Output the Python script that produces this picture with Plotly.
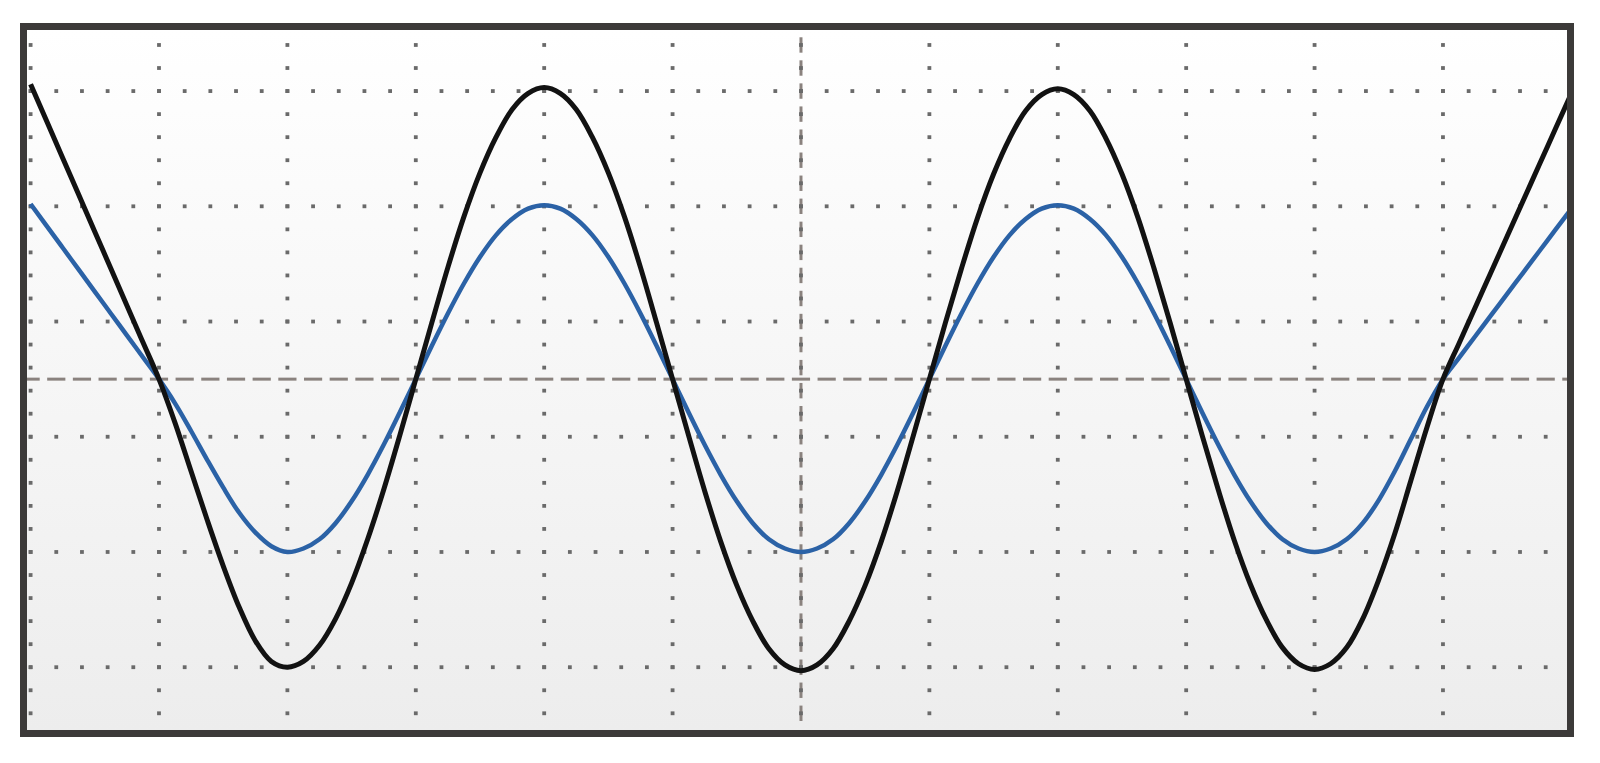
import plotly.graph_objects as go

# horizontal position of each reading, in screen divisions from the left edge
x_div = [0, 0.125, 0.25, 0.375, 0.5, 0.625, 0.75, 0.875,
         1, 1.125, 1.25, 1.375, 1.5, 1.625, 1.75, 1.875,
         2, 2.125, 2.25, 2.375, 2.5, 2.625, 2.75, 2.875,
         3, 3.125, 3.25, 3.375, 3.5, 3.625, 3.75, 3.875,
         4, 4.125, 4.25, 4.375, 4.5, 4.625, 4.75, 4.875,
         5, 5.125, 5.25, 5.375, 5.5, 5.625, 5.75, 5.875,
         6, 6.125, 6.25, 6.375, 6.5, 6.625, 6.75, 6.875,
         7, 7.125, 7.25, 7.375, 7.5, 7.625, 7.75, 7.875,
         8, 8.125, 8.25, 8.375, 8.5, 8.625, 8.75, 8.875,
         9, 9.125, 9.25, 9.375, 9.5, 9.625, 9.75, 9.875,
         10, 10.125, 10.25, 10.375, 10.5, 10.625, 10.75, 10.875,
         11, 11.125, 11.25, 11.375, 11.5, 11.625, 11.75, 11.875, 12]

# trace values, in vertical divisions from the centre line
black_trace = [2.56, 2.24, 1.92, 1.6, 1.28, 0.96, 0.64, 0.32,
               0.0, -0.38, -0.8, -1.22, -1.62, -1.98, -2.27, -2.45,
               -2.5, -2.45, -2.31, -2.08, -1.77, -1.39, -0.96, -0.49,
               0.0, 0.49, 0.97, 1.41, 1.79, 2.1, 2.34, 2.48,
               2.53, 2.48, 2.34, 2.1, 1.79, 1.41, 0.97, 0.49,
               0.0, -0.49, -0.97, -1.41, -1.79, -2.1, -2.34, -2.48,
               -2.53, -2.48, -2.34, -2.1, -1.79, -1.41, -0.97, -0.49,
               0.0, 0.49, 0.96, 1.4, 1.78, 2.09, 2.33, 2.47,
               2.52, 2.47, 2.33, 2.09, 1.78, 1.4, 0.96, 0.49,
               0.0, -0.49, -0.96, -1.4, -1.78, -2.09, -2.33, -2.47,
               -2.52, -2.47, -2.33, -2.08, -1.74, -1.34, -0.88, -0.42,
               0.0, 0.31, 0.62, 0.93, 1.24, 1.55, 1.86, 2.17, 2.48]
blue_trace = [1.52, 1.33, 1.14, 0.95, 0.76, 0.57, 0.38, 0.19,
              0.0, -0.21, -0.45, -0.7, -0.94, -1.16, -1.33, -1.45,
              -1.5, -1.47, -1.39, -1.25, -1.06, -0.83, -0.57, -0.29,
              0.0, 0.29, 0.57, 0.83, 1.06, 1.25, 1.39, 1.48,
              1.51, 1.48, 1.39, 1.25, 1.06, 0.83, 0.57, 0.29,
              0.0, -0.29, -0.57, -0.83, -1.06, -1.25, -1.39, -1.47,
              -1.5, -1.47, -1.39, -1.25, -1.06, -0.83, -0.57, -0.29,
              0.0, 0.29, 0.57, 0.83, 1.06, 1.25, 1.39, 1.48,
              1.51, 1.48, 1.39, 1.25, 1.06, 0.83, 0.57, 0.29,
              0.0, -0.29, -0.57, -0.83, -1.06, -1.25, -1.39, -1.47,
              -1.5, -1.47, -1.39, -1.25, -1.05, -0.8, -0.52, -0.24,
              0.0, 0.185, 0.37, 0.555, 0.74, 0.925, 1.11, 1.295, 1.48]

# screen graticule
grid_cols = [0, 1, 2, 3, 4, 5, 6, 7, 8, 9, 10, 11]
grid_rows = [-2.5, -1.5, -0.5, 0.5, 1.5, 2.5]

x_lo, x_hi = -0.028, 11.966
y_lo, y_hi = -3.045, 3.03

fig = go.Figure()

# screen background, light at the top and greyer at the bottom
fig.add_trace(go.Scatter(
    x=[x_lo, x_hi, x_hi, x_lo, x_lo], y=[y_lo, y_lo, y_hi, y_hi, y_lo],
    mode="lines", line=dict(width=0), fill="toself",
    fillgradient=dict(type="vertical", start=y_lo, stop=y_hi,
                      colorscale=[[0, "#ededed"], [0.5, "#f6f6f6"], [1, "#ffffff"]]),
    hoverinfo="skip", showlegend=False))

# centre cross, dashed
hx = [round(0.2 * k, 2) for k in range(61)]
fig.add_trace(go.Scatter(
    x=hx, y=[0] * len(hx), mode="markers",
    marker=dict(symbol="line-ew", size=13, line=dict(width=3, color="#8a827e")),
    hoverinfo="skip", showlegend=False))
vy = [round(0.1 + 0.2 * k, 2) for k in range(15)]
vy = [-v for v in vy[::-1]] + vy
fig.add_trace(go.Scatter(
    x=[6] * len(vy), y=vy, mode="markers",
    marker=dict(symbol="line-ns", size=11, line=dict(width=3, color="#8a827e")),
    hoverinfo="skip", showlegend=False))

# dotted graticule
dot_x, dot_y = [], []
for c in grid_cols:
    for v in vy:
        dot_x.append(c)
        dot_y.append(v)
for r in grid_rows:
    for h in hx:
        dot_x.append(h)
        dot_y.append(r)
fig.add_trace(go.Scatter(
    x=dot_x, y=dot_y, mode="markers",
    marker=dict(symbol="square", size=3.8, color="#6a6a6a", line=dict(width=0)),
    hoverinfo="skip", showlegend=False))

fig.add_trace(go.Scatter(
    x=x_div, y=blue_trace, mode="lines", line=dict(color="#2b62a6", width=4.5, shape="spline"),
    hoverinfo="skip", showlegend=False))
fig.add_trace(go.Scatter(
    x=x_div, y=black_trace, mode="lines", line=dict(color="#121212", width=5, shape="spline"),
    hoverinfo="skip", showlegend=False))

axis_style = dict(showgrid=False, zeroline=False, showticklabels=False, ticks="",
                  showline=True, mirror=True, linewidth=7, linecolor="#3c3a39", fixedrange=True)
fig.update_xaxes(range=[x_lo, x_hi], **axis_style)
fig.update_yaxes(range=[y_lo, y_hi], **axis_style)

fig.update_layout(
    width=1600, height=763,
    margin=dict(l=27, r=33, t=30, b=33),
    paper_bgcolor="#ffffff", plot_bgcolor="#ffffff",
    hovermode=False, showlegend=False)

fig.write_html("out.html", config={"displayModeBar": False},
               post_script="document.body.style.margin='0';document.body.style.overflow='hidden';")
